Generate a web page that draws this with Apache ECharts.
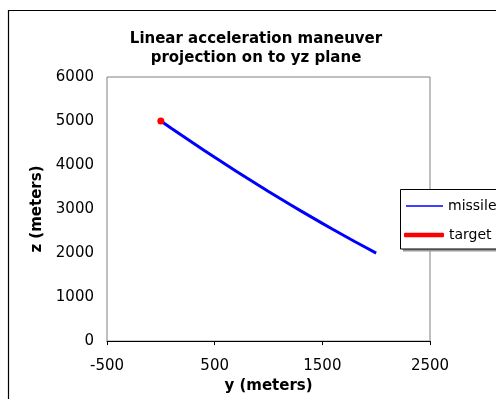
<!DOCTYPE html>
<html>
<head>
<meta charset="utf-8">
<script src="https://cdn.jsdelivr.net/npm/echarts@6/dist/echarts.min.js"></script>
<style>
  html, body { margin: 0; padding: 0; background: #fff; }
  #chart { width: 496px; height: 399px; }
</style>
</head>
<body>
<div id="chart"></div>
<script>
// Missile path projected on the yz plane (meters)
const missileY = [0, 100, 200, 300, 400, 500, 600, 700, 800, 900, 1000,
                  1100, 1200, 1300, 1400, 1500, 1600, 1700, 1800, 1900, 2000];
const missileZ = [5000, 4831, 4664, 4499, 4336, 4175, 4016, 3859, 3704, 3551, 3400,
                  3251, 3104, 2959, 2816, 2675, 2536, 2399, 2264, 2131, 2000];

// Target position
const targetY = [0];
const targetZ = [5000];

// Axis ranges / ticks
const xTicks = [-500, 500, 1500, 2500];
const yTicks = [0, 1000, 2000, 3000, 4000, 5000, 6000];

const FONT = '"DejaVu Sans", sans-serif';

const chart = echarts.init(document.getElementById('chart'), null, { renderer: 'canvas' });

const pairs = (xs, ys) => xs.map((x, i) => [x, ys[i]]);
const plain = v => String(v);

chart.setOption({
  animation: false,
  backgroundColor: '#fff',
  title: {
    text: 'Linear acceleration maneuver\nprojection on to yz plane',
    left: 256,
    top: 29,
    padding: 0,
    textAlign: 'center',
    textStyle: {
      fontFamily: FONT,
      fontSize: 15,
      fontWeight: 'bold',
      color: '#000',
      lineHeight: 19.5
    }
  },
  grid: {
    left: 107,
    top: 77,
    right: 66,
    bottom: 57,
    show: true,
    borderColor: '#808080',
    borderWidth: 1,
    backgroundColor: '#fff'
  },
  xAxis: {
    type: 'value',
    min: xTicks[0],
    max: xTicks[xTicks.length - 1],
    interval: 1000,
    name: 'y (meters)',
    nameLocation: 'middle',
    nameGap: 35,
    nameTextStyle: { fontFamily: FONT, fontSize: 15, fontWeight: 'bold', color: '#000' },
    axisLine: { show: true, lineStyle: { color: '#000', width: 1 } },
    axisTick: { show: true, inside: false, length: 4, lineStyle: { color: '#000' } },
    axisLabel: { fontFamily: FONT, fontSize: 15, color: '#000', margin: 18, formatter: plain },
    splitLine: { show: false }
  },
  yAxis: {
    type: 'value',
    min: yTicks[0],
    max: yTicks[yTicks.length - 1],
    interval: 1000,
    name: 'z (meters)',
    nameLocation: 'middle',
    nameGap: 62,
    nameRotate: 90,
    nameTextStyle: { fontFamily: FONT, fontSize: 15, fontWeight: 'bold', color: '#000' },
    axisLine: { show: false },
    axisTick: { show: false },
    axisLabel: { fontFamily: FONT, fontSize: 15, color: '#000', margin: 13, formatter: plain },
    splitLine: { show: false }
  },
  legend: [
    {
      data: [{ name: 'missile', icon: 'rect' }],
      left: 406,
      top: 199,
      padding: 0,
      itemWidth: 37,
      itemHeight: 1.5,
      textStyle: { fontFamily: FONT, fontSize: 14, color: '#000' },
      selectedMode: false
    },
    {
      data: [{ name: 'target', icon: 'roundRect' }],
      left: 404,
      top: 228,
      padding: 0,
      itemWidth: 40,
      itemHeight: 4.5,
      textStyle: { fontFamily: FONT, fontSize: 14, color: '#000' },
      selectedMode: false
    }
  ],
  graphic: [
    {
      // outer chart frame
      type: 'rect',
      z: -1,
      silent: true,
      shape: { x: 8.5, y: 10.5, width: 600, height: 500 },
      style: { fill: 'none', stroke: '#000', lineWidth: 1.2 }
    },
    {
      // legend box shadow
      type: 'rect',
      z: 1,
      silent: true,
      shape: { x: 403, y: 192, width: 200, height: 59.5 },
      style: { fill: '#9a9a9a', stroke: null }
    },
    {
      // legend box
      type: 'rect',
      z: 2,
      silent: true,
      shape: { x: 400.5, y: 189.5, width: 200, height: 59.5 },
      style: { fill: '#fff', stroke: '#000', lineWidth: 1 }
    }
  ],
  series: [
    {
      name: 'missile',
      type: 'line',
      data: pairs(missileY, missileZ),
      showSymbol: false,
      symbol: 'none',
      smooth: false,
      color: '#0000ff',
      lineStyle: { color: '#0000ff', width: 3 },
      z: 3
    },
    {
      name: 'target',
      type: 'line',
      data: pairs(targetY, targetZ),
      symbol: 'circle',
      symbolSize: 7,
      showSymbol: true,
      color: '#ff0000',
      itemStyle: { color: '#ff0000' },
      lineStyle: { color: '#ff0000', width: 4 },
      z: 4
    }
  ]
});
</script>
</body>
</html>
